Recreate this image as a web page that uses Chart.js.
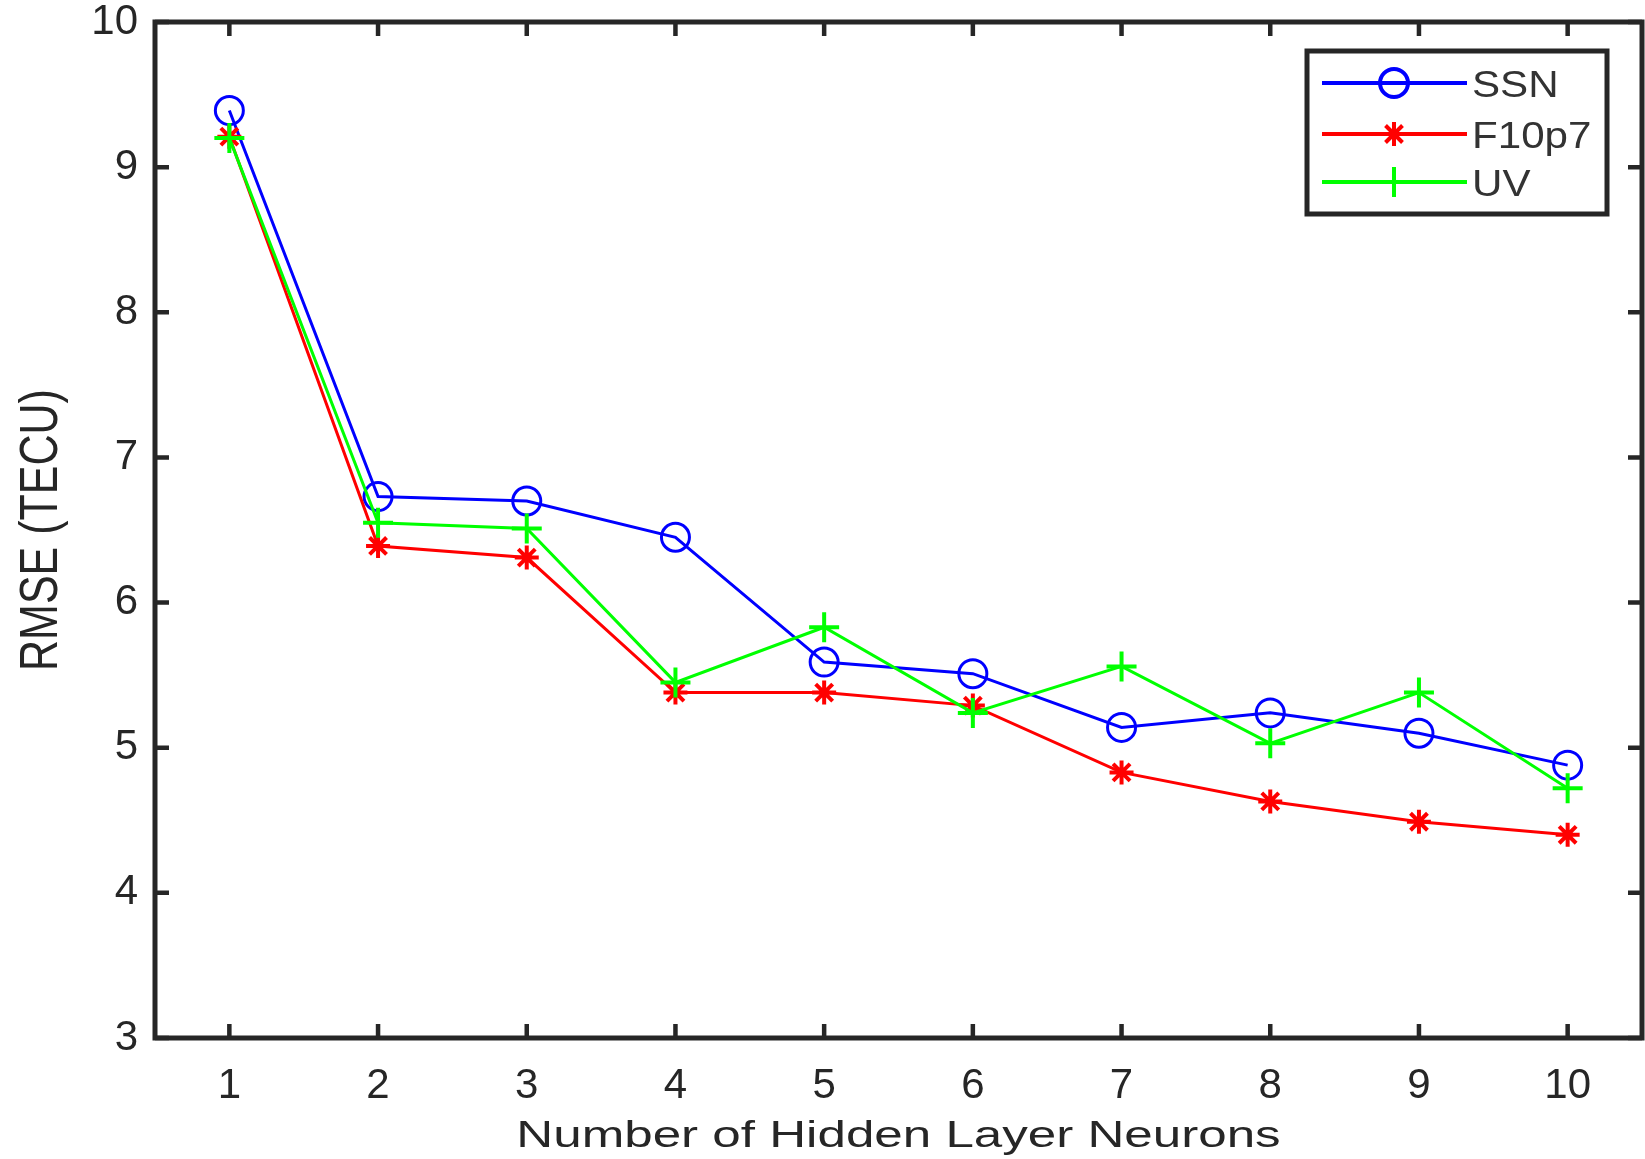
<!DOCTYPE html>
<html>
<head>
<meta charset="utf-8">
<title>RMSE vs number of hidden layer neurons</title>
<script src="https://cdn.jsdelivr.net/npm/chart.js@4.4.0/dist/chart.umd.min.js"></script>
<style>
  html, body { margin: 0; padding: 0; background: #fff; }
  #chart { display: block; }
</style>
</head>
<body>
<canvas id="chart" width="1645" height="1159"></canvas>
<script>
// RMSE (TECU) per number of hidden layer neurons, one series per solar input
var neurons = ['1', '2', '3', '4', '5', '6', '7', '8', '9', '10'];
var ssn   = [9.39, 6.73, 6.70, 6.45, 5.59, 5.51, 5.14, 5.24, 5.10, 4.88];
var f10p7 = [9.21, 6.39, 6.31, 5.38, 5.38, 5.29, 4.83, 4.63, 4.49, 4.40];
var uv    = [9.20, 6.55, 6.51, 5.45, 5.83, 5.24, 5.56, 5.03, 5.38, 4.72];
var yTicks = [3, 4, 5, 6, 7, 8, 9, 10];

var xTitle = 'Number of Hidden Layer Neurons';
var yTitle = 'RMSE (TECU)';

var axisColor = '#262626';
var fontFamily = "'Liberation Sans', Arial, Helvetica, sans-serif";

// draw text scaled along its own x / y directions
function stretchText(ctx, text, x, y, sx, sy, rot) {
    ctx.save();
    ctx.translate(x, y);
    if (rot) ctx.rotate(rot);
    ctx.scale(sx, sy);
    ctx.fillText(text, 0, 0);
    ctx.restore();
}

function drawMarker(ctx, ds, x, y) {
    ctx.save();
    ctx.strokeStyle = ds.borderColor;
    ctx.fillStyle = 'rgba(0,0,0,0)';
    Chart.helpers.drawPoint(ctx, {
        pointStyle: ds.pointStyle,
        radius: ds.pointRadius,
        borderWidth: ds.pointBorderWidth,
        rotation: 0
    }, x, y);
    ctx.restore();
}

// box, inward ticks on all four sides, axis titles and the legend
var framePlugin = {
    id: 'frame',
    afterDraw: function(chart) {
        var ctx = chart.ctx;
        var area = chart.chartArea;
        var xs = chart.scales.x, ys = chart.scales.y;
        var tickLen = 14;

        ctx.save();
        ctx.strokeStyle = axisColor;
        ctx.lineWidth = 5;
        ctx.lineCap = 'butt';
        ctx.strokeRect(area.left, area.top, area.right - area.left, area.bottom - area.top);

        ctx.lineWidth = 4.5;
        ctx.beginPath();
        neurons.forEach(function(n, i) {
            var px = xs.getPixelForValue(i);
            ctx.moveTo(px, area.bottom); ctx.lineTo(px, area.bottom - tickLen);
            ctx.moveTo(px, area.top);    ctx.lineTo(px, area.top + tickLen);
        });
        yTicks.forEach(function(v) {
            var py = ys.getPixelForValue(v);
            ctx.moveTo(area.left, py);  ctx.lineTo(area.left + tickLen, py);
            ctx.moveTo(area.right, py); ctx.lineTo(area.right - tickLen, py);
        });
        ctx.stroke();

        // axis titles
        ctx.fillStyle = axisColor;
        ctx.textAlign = 'center';
        ctx.textBaseline = 'alphabetic';
        ctx.font = '36px ' + fontFamily;
        stretchText(ctx, xTitle, (area.left + area.right) / 2, 1147, 1.42, 1, 0);
        ctx.font = '43px ' + fontFamily;
        stretchText(ctx, yTitle, 57, (area.top + area.bottom) / 2, 1, 1.25, -Math.PI / 2);

        // legend
        var bx = area.right - 335, by = area.top + 29, bw = 300, bh = 163;
        ctx.fillStyle = '#fff';
        ctx.fillRect(bx, by, bw, bh);
        ctx.lineWidth = 5;
        ctx.strokeRect(bx, by, bw, bh);
        var rows = [by + 32, by + 83, by + 131];
        chart.data.datasets.forEach(function(ds, i) {
            var ry = rows[i];
            ctx.strokeStyle = ds.borderColor;
            ctx.lineWidth = 4;
            ctx.beginPath();
            ctx.moveTo(bx + 15, ry);
            ctx.lineTo(bx + 160, ry);
            ctx.stroke();
            drawMarker(ctx, ds, bx + 87, ry);
            ctx.fillStyle = '#333';
            ctx.textAlign = 'left';
            ctx.font = '36px ' + fontFamily;
            stretchText(ctx, ds.label, bx + 165, ry + 14, 1.17, 1, 0);
        });
        ctx.restore();
    }
};

var ctx = document.getElementById('chart').getContext('2d');
var chart = new Chart(ctx, {
    type: 'line',
    data: {
        labels: neurons,
        datasets: [{
            label: 'SSN',
            data: ssn,
            borderColor: '#0000ff',
            backgroundColor: 'rgba(0,0,0,0)',
            borderWidth: 3,
            pointStyle: 'circle',
            pointRadius: 14,
            pointBorderWidth: 3,
            pointBackgroundColor: 'rgba(0,0,0,0)',
            order: 2
        }, {
            label: 'F10p7',
            data: f10p7,
            borderColor: '#ff0000',
            backgroundColor: 'rgba(0,0,0,0)',
            borderWidth: 3,
            pointStyle: 'star',
            pointRadius: 12,
            pointBorderWidth: 4,
            order: 1
        }, {
            label: 'UV',
            data: uv,
            borderColor: '#00ff00',
            backgroundColor: 'rgba(0,0,0,0)',
            borderWidth: 3,
            pointStyle: 'cross',
            pointRadius: 15,
            pointBorderWidth: 4,
            order: 0
        }]
    },
    options: {
        responsive: false,
        animation: false,
        devicePixelRatio: 1,
        // big markers would otherwise shrink the plot area
        layout: { autoPadding: false, padding: { top: 22, right: 3, left: 0, bottom: 0 } },
        elements: { line: { tension: 0 } },
        plugins: {
            legend: { display: false },
            tooltip: { enabled: false }
        },
        scales: {
            x: {
                type: 'category',
                offset: true,
                grid: { display: false, drawTicks: false },
                border: { display: false },
                ticks: {
                    color: axisColor,
                    padding: 23,
                    maxRotation: 0,
                    autoSkip: false,
                    font: { family: fontFamily, size: 42 }
                },
                afterFit: function(scale) {
                    scale.height = 121;
                    scale.paddingLeft = 0;
                    scale.paddingRight = 0;
                }
            },
            y: {
                type: 'linear',
                min: 3,
                max: 10,
                grid: { display: false, drawTicks: false },
                border: { display: false },
                afterBuildTicks: function(scale) {
                    scale.ticks = yTicks.map(function(v) { return { value: v }; });
                },
                ticks: {
                    color: axisColor,
                    padding: 17,
                    font: { family: fontFamily, size: 42 }
                },
                afterFit: function(scale) {
                    scale.width = 155;
                    scale.paddingTop = 0;
                    scale.paddingBottom = 0;
                }
            }
        }
    },
    plugins: [framePlugin]
});
</script>
</body>
</html>
